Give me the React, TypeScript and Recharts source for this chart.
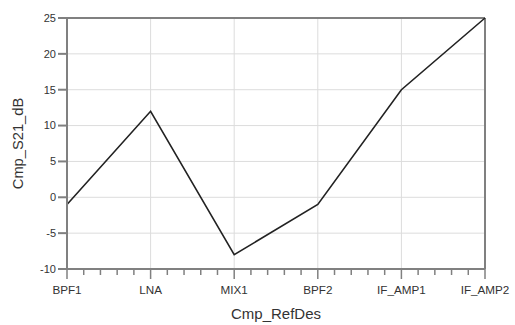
import { LineChart, Line, XAxis, YAxis, CartesianGrid, ReferenceLine } from 'recharts';

const categories = ['BPF1', 'LNA', 'MIX1', 'BPF2', 'IF_AMP1', 'IF_AMP2'];
const s21Values = [-1, 12, -8, -1, 15, 25];
const yTicks = [-10, -5, 0, 5, 10, 15, 20, 25];

const data = categories.map((name, i) => ({ idx: i, name, s21: s21Values[i] }));

// major ticks at each category, 4 minor ticks between them
const xTicks = Array.from({ length: (categories.length - 1) * 5 + 1 }, (_, i) => i / 5);

const FONT = 'Arial, "Liberation Sans", sans-serif';
const AXIS = '#808080';
const TEXT = '#333';

function XTick({ x, y, index }: any) {
  const major = index % 5 === 0;
  return (
    <g>
      <line x1={x} x2={x} y1={y} y2={y + (major ? 10 : 6)} stroke={AXIS} strokeWidth={1.5} />
      {major && (
        <text x={x} y={y + 25} textAnchor="middle" fontSize={11.7} fill={TEXT} fontFamily={FONT}>
          {categories[index / 5]}
        </text>
      )}
    </g>
  );
}

export default function App() {
  return (
    <div style={{ position: 'absolute', left: 0, top: 0, background: '#fff' }}>
      <LineChart width={515} height={325} data={data} margin={{ top: 18, right: 30, bottom: 14, left: 7 }}>
        <CartesianGrid vertical={false} stroke="#dcdcdc" />
        {[1, 2, 3, 4].map((v) => (
          <ReferenceLine key={v} x={v} stroke="#dcdcdc" />
        ))}
        <ReferenceLine y={25} stroke={AXIS} strokeWidth={2} />
        <ReferenceLine x={5} stroke={AXIS} strokeWidth={2} />
        <XAxis
          dataKey="idx"
          type="number"
          domain={[0, 5]}
          ticks={xTicks}
          interval={0}
          tickSize={0}
          tickMargin={0}
          tick={<XTick />}
          height={42}
          stroke={AXIS}
          strokeWidth={2}
          label={{ value: 'Cmp_RefDes', position: 'insideBottom', offset: -8, fontSize: 15, fill: TEXT, fontFamily: FONT }}
        />
        <YAxis
          domain={[-10, 25]}
          ticks={yTicks}
          interval={0}
          width={60}
          tickSize={9}
          tickMargin={2}
          stroke={AXIS}
          strokeWidth={2}
          tick={{ fontSize: 11, fill: TEXT, fontFamily: FONT }}
          label={{ value: 'Cmp_S21_dB', angle: -90, position: 'insideLeft', offset: 11, fontSize: 14.7, fill: TEXT, fontFamily: FONT, style: { textAnchor: 'middle' } }}
        />
        <Line type="linear" dataKey="s21" stroke="#222" strokeWidth={1.6} dot={false} isAnimationActive={false} />
      </LineChart>
    </div>
  );
}
